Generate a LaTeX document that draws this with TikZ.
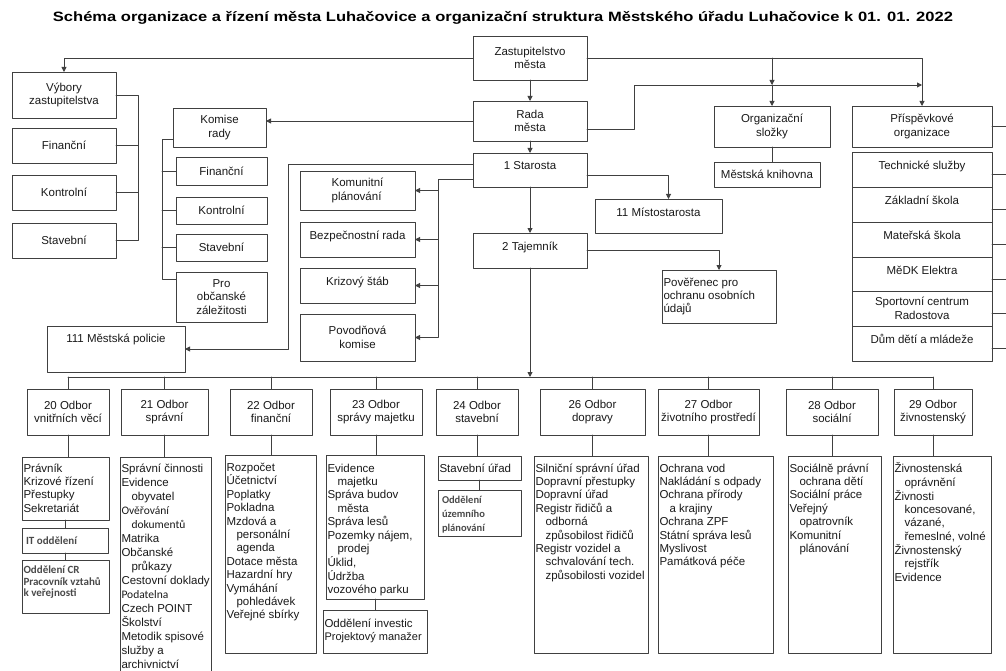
\documentclass[tikz,border=0pt]{standalone}
\usepackage{fontspec}
\setmainfont{Liberation Sans}
\newfontfamily\notefont{Carlito}
\usetikzlibrary{arrows.meta,calc}
\definecolor{LineGray}{HTML}{404040}
\definecolor{NoteGray}{HTML}{4A4A4A}
\definecolor{InkBlack}{HTML}{1A1A1A}
\newcommand{\ind}{\hspace*{10pt}}
\newcommand{\calib}{\notefont\fontsize{11.5}{14}\selectfont}
% list box: width, height, first baseline, lines
\newcommand{\lst}[4]{\parbox[t][#2][t]{#1}{\vspace*{\dimexpr#3-.7\baselineskip\relax}\noindent\begin{tabular}[t]{@{}l@{}}#4\end{tabular}}}

\begin{document}
\begin{tikzpicture}[
  x=1pt, y=-1pt,
  line cap=round, line join=round,
  >={Triangle[length=5pt,width=5pt]},
  font=\fontsize{11.5}{13.4}\selectfont,
  ln/.style={draw=LineGray, line width=0.9pt},
  arr/.style={ln, ->},
  box/.style={ln, fill=white, inner sep=1pt, outer sep=0pt, align=center, text=InkBlack},
  hi/.style={text height=9pt, text depth=9pt},
  list/.style={ln, fill=white, inner xsep=1.5pt, inner ysep=0pt, outer sep=0pt, anchor=north west, text=InkBlack},
  note/.style={font=\notefont\bfseries\fontsize{11}{11.5}\selectfont, text=NoteGray}
]

% Background
\fill[white] (0,0) rectangle (1006,671);
\useasboundingbox (0,0) rectangle (1006,671);

\node[font=\bfseries\fontsize{13.5}{15}\selectfont] (title) at (503,18)
  {\scalebox{1.225}[1]{Schéma organizace a řízení města Luhačovice a organizační struktura Městského úřadu Luhačovice k 01. 01. 2022}};

% === Vedení města ===
\node[box, minimum width=114pt, minimum height=44pt] (zast) at (530,58) {Zastupitelstvo\\města};
\node[box, minimum width=114pt, minimum height=40pt] (rada) at (530,121) {Rada\\města};
\node[box, hi, minimum width=114pt, minimum height=34pt] (staro) at (530,170) {1 Starosta};
\node[box, hi, minimum width=114pt, minimum height=35pt] (taj) at (530,250.5) {2 Tajemník};
\node[box, hi, minimum width=127pt, minimum height=34pt] (misto) at (658.5,216) {11 Místostarosta};
\node[list] (pover) at (662,270) {\lst{111pt}{53pt}{16pt}{Pověřenec pro\\ochranu osobních\\údajů}};

% === Výbory zastupitelstva ===
\node[box, minimum width=104pt, minimum height=46pt] (vybory) at (64,95) {Výbory\\zastupitelstva};
\node[box, minimum width=104pt, minimum height=35pt] (vfin) at (64,145.5) {Finanční};
\node[box, minimum width=104pt, minimum height=35pt] (vkon) at (64,192.5) {Kontrolní};
\node[box, minimum width=104pt, minimum height=35pt] (vsta) at (64,240.5) {Stavební};
\draw[ln] (vybory.east) -- ++(22,0) coordinate (vbr) -- (vbr |- vsta.east) -- (vsta.east);
\foreach \n in {vfin,vkon}
  \draw[ln] (vbr |- \n.east) -- (\n.east);

% === Komise rady ===
\node[box, minimum width=93pt, minimum height=39pt] (komise) at (219.5,127.5) {Komise\\rady};
\node[box, minimum width=91pt, minimum height=28pt] (kfin) at (221.5,171) {Finanční};
\node[box, minimum width=91pt, minimum height=27pt] (kkon) at (221.5,210.5) {Kontrolní};
\node[box, minimum width=91pt, minimum height=27pt] (ksta) at (221.5,247.5) {Stavební};
\node[box, minimum width=91pt, minimum height=50pt] (kpro) at (221.5,297) {Pro\\občanské\\záležitosti};
\draw[ln] ([yshift=-12pt]komise.west) -- ++(-11,0) coordinate (kbr) |- ([yshift=18pt]kpro.west);
\foreach \n in {kfin,kkon,ksta}
  \draw[ln] (kbr |- \n.west) -- (\n.west);

% === Orgány starosty ===
\node[box, align=left, minimum width=115pt, minimum height=39pt] (komun) at (357.5,190.5) {Komunitní\\plánování};
\node[box, hi, minimum width=115pt, minimum height=35pt] (bezp) at (357.5,239.5) {Bezpečnostní rada};
\node[box, hi, minimum width=115pt, minimum height=35pt] (kriz) at (357.5,285.5) {Krizový štáb};
\node[box, minimum width=115pt, minimum height=47pt] (povod) at (357.5,337.5) {Povodňová\\komise};
\node[box, text height=9pt, text depth=23pt, minimum width=138pt, minimum height=46pt] (policie) at (116,349) {111 Městská policie};

% === Organizační složky a příspěvkové organizace ===
\node[box, minimum width=116pt, minimum height=41pt] (org) at (772,126.5) {Organizační\\složky};
\node[box, minimum width=106pt, minimum height=25pt] (knih) at (767,174.5) {Městská knihovna};
\node[box, minimum width=140pt, minimum height=41pt] (prisp) at (922,126.5) {Příspěvkové\\organizace};
\foreach \i/\top/\txt in {1/152/Technické služby, 2/187/Základní škola, 3/222/Mateřská škola,
  4/257/MěDK Elektra, 6/326/Dům dětí a mládeže}
  \node[box, hi, minimum width=140pt, minimum height=35pt, anchor=north] (ps\i) at (922,\top) {\txt};
\node[box, minimum width=140pt, minimum height=35pt, anchor=north] (ps5) at (922,291) {Sportovní centrum\\Radostova};
\draw[ln] (prisp.east) -- ++(16,0);
\foreach \i in {1,...,6}
  \draw[ln] ([yshift=-4.5pt]ps\i.east) -- ++(16,0);
\draw[ln] (org.south) -- (org.south |- knih.north);

% === Spoje vedení ===
\coordinate (radaln) at (634,85);
\coordinate (bus) at (0,377);
\draw[arr] (zast) -- (rada);
\draw[arr] (zast.west) -| (vybory.north);
\draw[arr] (zast.east) -| (prisp.north);
\draw[arr] (zast.east -| org.north) -- (org.north |- radaln);
\draw[arr] (org.north |- radaln) -- (org.north);
\draw[arr] ([yshift=-8pt]rada.east) -| (radaln) -- (radaln -| prisp.north);
\draw[arr] (rada.west) -- (rada.west -| komise.east);
\draw[arr] (rada) -- (staro);
\draw[arr] (staro) -- (taj);
\draw[arr] ([yshift=-5pt]staro.east) -| ([xshift=10pt]misto.north);
\draw[arr] (taj.east) -| (pover.north);
\draw[arr] ([yshift=6pt]staro.west) -- ++(-185,0) |- (policie.east);
\draw[ln] ([yshift=-9pt]staro.west) -- ++(-35,0) coordinate (sbr) -- (sbr |- povod.east);
\foreach \n in {komun,bezp,kriz,povod}
  \draw[arr] (sbr |- \n.east) -- (\n.east);
\draw[arr] (taj) -- (taj.south |- bus);

% === Odbory ===
\foreach \id/\cx/\w/\txt in {
  20/68/82/{20 Odbor\\vnitřních věcí},
  21/164.5/87/{21 Odbor\\správní},
  22/271/82/{22 Odbor\\finanční},
  23/376/92/{23 Odbor\\správy majetku},
  24/477/82/{24 Odbor\\stavební},
  26/592.5/105/{26 Odbor\\dopravy},
  27/708.5/101/{27 Odbor\\životního prostředí},
  28/832/92/{28 Odbor\\sociální},
  29/933/78/{29 Odbor\\živnostenský}%
}{
  \node[box, minimum width=\w pt, minimum height=46pt] (o\id) at (\cx,412) {\txt};
}
\draw[ln] (o20.north |- bus) -- (o29.north |- bus);
\foreach \id in {20,21,22,23,24,26,27,28,29}
  \draw[ln] (o\id.north |- bus) -- (o\id.north);

% === Agendy odborů ===
\node[list] (d20) at (22,457) {\lst{84pt}{63pt}{15pt}{Právník\\Krizové řízení\\Přestupky\\Sekretariát}};
\node[list, note, inner xsep=4pt] (it) at (22,528) {\lst{78pt}{25pt}{16pt}{IT oddělení}};
\node[list, note] (cr) at (22,560) {\lst{84pt}{53pt}{13.5pt}{Oddělení CR\\Pracovník vztahů\\k veřejnosti}};
\node[list, font=\fontsize{11.5}{14}\selectfont] (d21) at (120,457) {\lst{88pt}{240pt}{15pt}{Správní činnosti\\Evidence\\\ind obyvatel\\\calib Ověřování\\\ind\calib dokumentů\\Matrika\\Občanské\\\ind průkazy\\Cestovní doklady\\\calib Podatelna\\Czech POINT\\Školství\\Metodik spisové\\služby a\\archivnictví}};
\node[list] (d22) at (225,455) {\lst{88pt}{198pt}{16pt}{Rozpočet\\Účetnictví\\Poplatky\\Pokladna\\Mzdová a\\\ind personální\\\ind agenda\\Dotace města\\Hazardní hry\\Vymáhání\\\ind pohledávek\\Veřejné sbírky}};
\node[list] (d23) at (326,455) {\lst{95pt}{144pt}{17pt}{Evidence\\\ind majetku\\Správa budov\\\ind města\\Správa lesů\\Pozemky nájem,\\\ind prodej\\Úklid,\\Údržba\\vozového parku}};
\node[list] (inv) at (323,610) {\lst{101pt}{43pt}{17pt}{Oddělení investic\\\fontsize{11}{13.4}\selectfont Projektový manažer}};
\node[list] (d24) at (438,456) {\lst{80pt}{24pt}{16pt}{Stavební úřad}};
\node[list, note, font=\notefont\bfseries\fontsize{10.5}{14}\selectfont, inner xsep=4pt] (uzp) at (438,490) {\lst{75pt}{46pt}{13.5pt}{Oddělení\\územního\\plánování}};
\node[list] (d26) at (534,456) {\lst{111pt}{197pt}{16pt}{Silniční správní úřad\\Dopravní přestupky\\Dopravní úřad\\Registr řidičů a\\\ind odborná\\\ind způsobilost řidičů\\Registr vozidel a\\\ind schvalování tech.\\\ind způsobilosti vozidel}};
\node[list] (d27) at (658,456) {\lst{112pt}{197pt}{16pt}{Ochrana vod\\Nakládání s odpady\\Ochrana přírody\\\ind a krajiny\\Ochrana ZPF\\Státní správa lesů\\Myslivost\\Památková péče}};
\node[list] (d28) at (788,456) {\lst{90pt}{197pt}{16pt}{Sociálně právní\\\ind ochrana dětí\\Sociální práce\\Veřejný\\\ind opatrovník\\Komunitní\\\ind plánování}};
\node[list] (d29) at (893,456) {\lst{95pt}{197pt}{16pt}{Živnostenská\\\ind oprávnění\\Živnosti\\\ind koncesované,\\\ind vázané,\\\ind řemeslné, volné\\Živnostenský\\\ind rejstřík\\Evidence}};

\foreach \id in {20,21,22,23,24,26,27,28,29}
  \draw[ln] (o\id.south) -- (o\id.south |- d\id.north);
\draw[ln] (d20.south) -- (d20.south |- it.north);
\draw[ln] (it.south) -- (it.south |- cr.north);
\draw[ln] (d23.south) -- (d23.south |- inv.north);
\draw[ln] (d24.south) -- (d24.south |- uzp.north);

\end{tikzpicture}
\end{document}
